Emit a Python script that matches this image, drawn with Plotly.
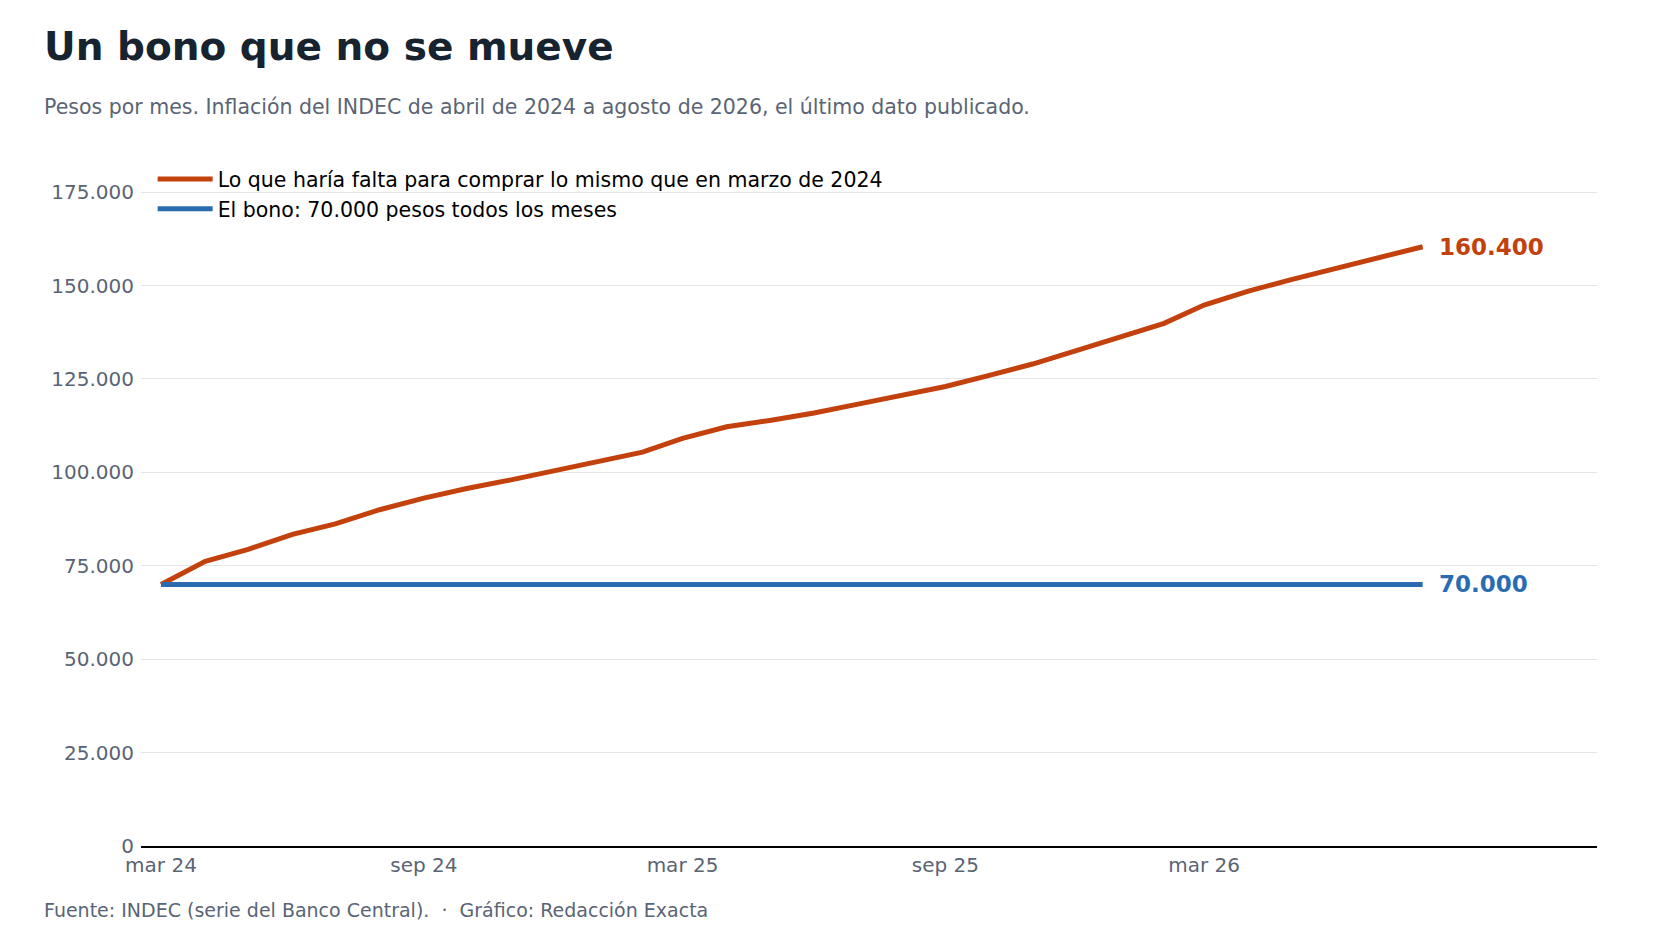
import pandas as pd
import plotly.graph_objects as go

# monthly series, Mar 2024 .. Aug 2026
months = pd.date_range("2024-03-01", "2026-08-01", freq="MS")
needed = [70000, 76200, 79400, 83400, 86200, 90000, 93100, 95700, 98000, 100500,
          102800, 105400, 109100, 112200, 113900, 115900, 118200, 120500, 123000, 125900,
          129000, 132500, 136200, 139900, 144800, 148500, 151600, 154500, 157600, 160400]
bono = [70000] * len(months)

tick_vals = ["2024-03-01", "2024-09-01", "2025-03-01", "2025-09-01", "2026-03-01"]
tick_text = ["mar 24", "sep 24", "mar 25", "sep 25", "mar 26"]

ORANGE = "#c2410c"
BLUE = "#2b6cb0"
GREY = "#5a6474"

fig = go.Figure()
fig.add_trace(go.Scatter(x=months, y=needed, mode="lines", line=dict(color=ORANGE, width=5),
                         name="Lo que haría falta para comprar lo mismo que en marzo de 2024"))
fig.add_trace(go.Scatter(x=months, y=bono, mode="lines", line=dict(color=BLUE, width=5),
                         name="El bono: 70.000 pesos todos los meses"))

# end labels
fig.add_annotation(x=months[-1], y=needed[-1], text="<b>160.400</b>", xanchor="left", xshift=14,
                   showarrow=False, font=dict(color=ORANGE, size=23))
fig.add_annotation(x=months[-1], y=bono[-1], text="<b>70.000</b>", xanchor="left", xshift=14,
                   showarrow=False, font=dict(color=BLUE, size=23))

# title, subtitle, footer
fig.add_annotation(xref="paper", yref="paper", x=-0.068, y=1.176, xanchor="left", yanchor="middle",
                   text="<b>Un bono que no se mueve</b>", showarrow=False,
                   font=dict(color="#17232f", size=39))
fig.add_annotation(xref="paper", yref="paper", x=-0.068, y=1.087, xanchor="left", yanchor="middle",
                   text="Pesos por mes. Inflación del INDEC de abril de 2024 a agosto de 2026, el último dato publicado.",
                   showarrow=False, font=dict(color=GREY, size=20.5))
fig.add_annotation(xref="paper", yref="paper", x=-0.068, y=-0.094, xanchor="left", yanchor="middle",
                   text="Fuente: INDEC (serie del Banco Central).  ·  Gráfico: Redacción Exacta",
                   showarrow=False, font=dict(color=GREY, size=19))

fig.update_layout(
    width=1664, height=928,
    paper_bgcolor="white", plot_bgcolor="white",
    font=dict(family="DejaVu Sans", color=GREY, size=20),
    margin=dict(l=133, r=75, t=158, b=90),
    showlegend=True,
    legend=dict(x=0.008, y=1.01, xanchor="left", yanchor="top", bgcolor="rgba(0,0,0,0)",
                font=dict(size=20.5, color="black"), itemwidth=55, tracegroupgap=4),
)
fig.update_xaxes(range=["2024-02-16", "2026-12-01"], tickvals=tick_vals, ticktext=tick_text,
                 showgrid=False, showline=True, linecolor="black", linewidth=1.5, ticks="")
fig.update_yaxes(range=[0, 182000], tickvals=[0, 25000, 50000, 75000, 100000, 125000, 150000, 175000],
                 ticktext=["0", "25.000", "50.000", "75.000", "100.000", "125.000", "150.000", "175.000"],
                 gridcolor="#e3e5e8", zeroline=False, ticks="", ticklabelstandoff=6)

fig.write_html("out.html")
